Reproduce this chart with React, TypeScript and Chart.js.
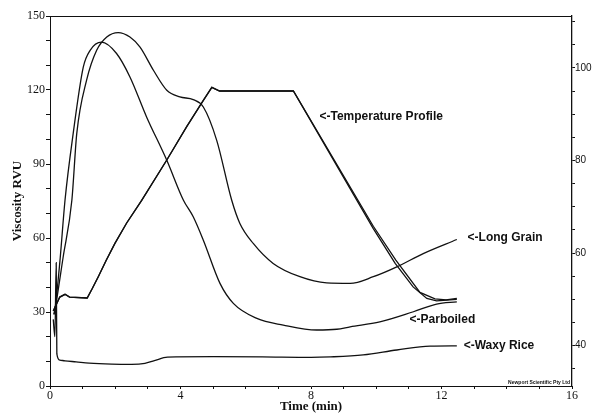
import React, { useEffect, useRef } from 'react';
import { Chart, registerables } from 'chart.js';

Chart.register(...registerables);

// ---- Data (time in min, viscosity in RVU, temperature in °C) ----
const longGrainTime = [0.12, 0.15, 0.4, 0.67, 0.82, 1.12, 1.43, 1.74, 2.09, 2.45, 2.76, 3.17, 3.58, 3.98, 4.39, 4.7, 5.11, 5.57, 5.82, 6.23, 6.84, 7.66, 8.48, 9.2, 9.91, 10.63, 11.44, 12.47];
const longGrainRVU = [29, 30.8, 52, 75.3, 102.3, 123.9, 136.1, 141.5, 143.3, 141.5, 137.4, 128.0, 119.9, 117.2, 116.1, 113.1, 99.6, 75.3, 65.9, 57.8, 49.7, 44.3, 41.8, 41.6, 44.3, 48.3, 53.7, 59.4];

const parboiledTime = [0.12, 0.15, 0.3, 0.46, 0.71, 1.02, 1.23, 1.58, 2.04, 2.45, 2.96, 3.58, 4.09, 4.39, 4.7, 5.21, 5.62, 6.34, 7.15, 8.17, 8.79, 9.2, 10.11, 11.14, 11.85, 12.47];
const parboiledRVU = [29, 30.8, 50, 75.3, 102.3, 129.3, 136.1, 139.4, 134.8, 125.3, 109.1, 91.5, 75.3, 68.6, 59.1, 41.6, 33.5, 27.4, 24.7, 22.7, 23.0, 24.0, 26.0, 30.1, 33.2, 34.1];

const waxyTime = [0.1, 0.15, 0.19, 0.21, 0.3, 0.46, 0.8, 1.2, 1.89, 2.5, 2.91, 3.2, 3.6, 5.0, 6.5, 8.0, 8.6, 9.6, 10.63, 11.65, 12.47];
const waxyRVU = [27, 20, 50, 13, 10.5, 10.2, 9.8, 9.3, 8.9, 8.8, 9.2, 10.3, 11.7, 11.9, 11.8, 11.6, 11.8, 12.6, 14.6, 16.2, 16.3];

const tempTime = [0.1, 0.3, 0.46, 0.6, 1.14, 1.3, 1.48, 1.72, 1.99, 2.35, 2.81, 3.58, 4.19, 4.7, 4.96, 5.2, 7.46, 9.91, 10.58, 11.13, 11.55, 11.85, 12.47];
const tempC = [47.5, 50.5, 51.1, 50.5, 50.3, 52.4, 54.9, 58.4, 62.1, 66.5, 71.4, 80.1, 87.3, 93.0, 95.8, 95.0, 95.0, 65.3, 57.8, 52.7, 50.2, 49.7, 50.0];

const temp2Time = [0.1, 0.3, 0.46, 0.6, 1.14, 1.3, 1.48, 1.72, 1.99, 2.35, 2.81, 3.58, 4.19, 4.7, 4.96, 5.2, 7.46, 9.91, 10.6, 11.34, 11.8, 12.14, 12.47];
const temp2C = [47.5, 50.5, 51.1, 50.5, 50.3, 52.4, 54.9, 58.4, 62.1, 66.5, 71.4, 80.1, 87.3, 93.0, 95.8, 95.0, 95.0, 65.8, 58.5, 51.5, 50.1, 49.9, 50.2];

const xTicks = [0, 4, 8, 12, 16];
const yTicks = [0, 30, 60, 90, 120, 150];
const tempTickLabels = [40, 60, 80, 100];
const tempMinorTicks = [35, 40, 45, 50, 55, 60, 65, 70, 75, 80, 85, 90, 95, 100, 105, 110];

const labelTexts = ['<-Temperature Profile', '<-Long Grain', '<-Parboiled', '<-Waxy Rice'];
const labelTimes = [8.26, 12.8, 11.02, 12.68];
const labelRVU = [109.1, 60.2, 26.7, 16.2];

const creditText = 'Newport Scientific Pty Ltd';

const pts = (t: number[], v: number[]) => t.map((x, i) => ({ x, y: v[i] }));

const INK = '#111111';

const annotationPlugin = {
  id: 'annotations',
  afterDraw(chart: any) {
    const { ctx, chartArea, scales } = chart;
    ctx.save();
    ctx.strokeStyle = INK;
    ctx.lineWidth = 1;
    ctx.beginPath();
    ctx.moveTo(chartArea.left, chartArea.top + 0.5);
    ctx.lineTo(chartArea.right, chartArea.top + 0.5);
    ctx.stroke();
    ctx.fillStyle = INK;
    ctx.font = 'bold 12px "Liberation Sans", Arial, sans-serif';
    ctx.textAlign = 'left';
    ctx.textBaseline = 'middle';
    labelTexts.forEach((txt, i) => {
      ctx.fillText(txt, scales.x.getPixelForValue(labelTimes[i]), scales.y.getPixelForValue(labelRVU[i]));
    });
    ctx.font = 'bold 5px "Liberation Sans", Arial, sans-serif';
    ctx.textAlign = 'right';
    ctx.textBaseline = 'alphabetic';
    ctx.fillText(creditText, chartArea.right - 2, chartArea.bottom - 2);
    ctx.restore();
  },
};

export default function App() {
  const ref = useRef<HTMLCanvasElement>(null);
  useEffect(() => {
    const canvas = ref.current;
    if (!canvas) return;
    const lineBase = {
      borderColor: INK,
      borderWidth: 1.3,
      pointRadius: 0,
      fill: false,
    };
    const chart = new Chart(canvas, {
      type: 'line',
      data: {
        datasets: [
          { ...lineBase, label: 'Long Grain', data: pts(longGrainTime, longGrainRVU), yAxisID: 'y', cubicInterpolationMode: 'monotone' },
          { ...lineBase, label: 'Parboiled', data: pts(parboiledTime, parboiledRVU), yAxisID: 'y', cubicInterpolationMode: 'monotone' },
          { ...lineBase, label: 'Waxy Rice', data: pts(waxyTime, waxyRVU), yAxisID: 'y', cubicInterpolationMode: 'monotone' },
          { ...lineBase, label: 'Temperature Profile', data: pts(tempTime, tempC), yAxisID: 'y1', tension: 0 },
          { ...lineBase, label: 'Temperature Profile 2', data: pts(temp2Time, temp2C), yAxisID: 'y1', tension: 0 },
        ] as any,
      },
      options: {
        responsive: false,
        animation: false,
        layout: { padding: { top: 16, left: 0, right: 0, bottom: 0 } },
        plugins: { legend: { display: false }, tooltip: { enabled: false } },
        scales: {
          x: {
            type: 'linear',
            min: 0,
            max: 16,
            afterBuildTicks: (s: any) => {
              const arr: any[] = [];
              for (let i = 0; i <= 16; i++) arr.push({ value: i });
              s.ticks = arr;
            },
            afterFit: (s: any) => { s.height = 30; },
            ticks: {
              autoSkip: false,
              maxRotation: 0,
              padding: 0,
              color: INK,
              font: { family: '"Liberation Serif", serif', size: 12 },
              callback: (v: any) => (xTicks.includes(Number(v)) ? String(v) : ''),
            },
            grid: { drawOnChartArea: false, drawTicks: true, tickLength: 3, color: INK },
            border: { display: true, color: INK, width: 1 },
            title: {
              display: true,
              text: 'Time (min)',
              color: INK,
              font: { family: '"Liberation Serif", serif', size: 13, weight: 'bold' },
              padding: { top: 0, bottom: 2 },
            },
          },
          y: {
            type: 'linear',
            position: 'left',
            min: 0,
            max: 150,
            afterBuildTicks: (s: any) => {
              const arr: any[] = [];
              for (let v = 0; v <= 150; v += 10) arr.push({ value: v });
              s.ticks = arr;
            },
            afterFit: (s: any) => { s.width = 50; },
            ticks: {
              autoSkip: false,
              padding: 1,
              color: INK,
              font: { family: '"Liberation Serif", serif', size: 12 },
              callback: (v: any) => (yTicks.includes(Number(v)) ? String(v) : ''),
            },
            grid: { drawOnChartArea: false, drawTicks: true, tickLength: 4, color: INK },
            border: { display: true, color: INK, width: 1 },
            title: {
              display: true,
              text: 'Viscosity RVU',
              color: INK,
              font: { family: '"Liberation Serif", serif', size: 13, weight: 'bold' },
              padding: { top: 10, bottom: 0 },
            },
          },
          y1: {
            type: 'linear',
            position: 'right',
            min: 31.3,
            max: 111.2,
            afterBuildTicks: (s: any) => {
              s.ticks = tempMinorTicks.map((v) => ({ value: v }));
            },
            afterFit: (s: any) => { s.width = 25; },
            ticks: {
              autoSkip: false,
              padding: 0,
              color: INK,
              font: { family: '"Liberation Sans", Arial, sans-serif', size: 10 },
              callback: (v: any) => (tempTickLabels.includes(Number(v)) ? String(v) : ''),
            },
            grid: { drawOnChartArea: false, drawTicks: true, tickLength: 3, color: INK },
            border: { display: true, color: INK, width: 1.3 },
          },
        },
      } as any,
      plugins: [annotationPlugin],
    });
    return () => chart.destroy();
  }, []);

  return (
    <div style={{ position: 'fixed', left: 0, top: 0, width: 597, height: 416, background: '#ffffff' }}>
      <canvas ref={ref} width={597} height={416} style={{ display: 'block' }} />
    </div>
  );
}
